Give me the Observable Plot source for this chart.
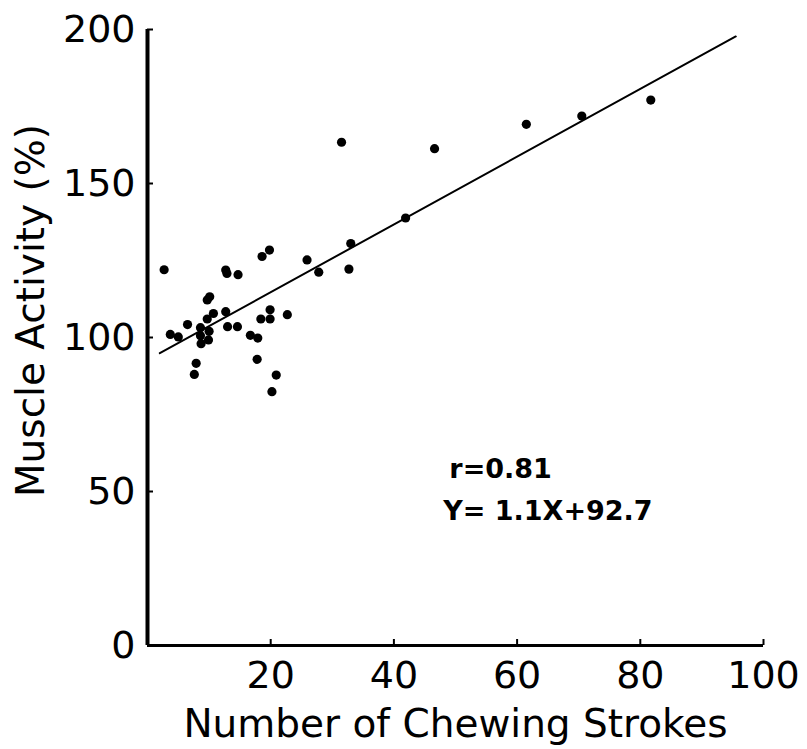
<!DOCTYPE html>
<html>
<head>
<meta charset="utf-8">
<script src="https://cdn.jsdelivr.net/npm/d3@7"></script>
<script src="https://cdn.jsdelivr.net/npm/@observablehq/plot@0.6"></script>
<style>
  html, body { margin: 0; padding: 0; background: #fff; }
  svg { display: block; }
</style>
</head>
<body>
<div id="chart"></div>
<script>
// Data
const strokes = [2.7, 3.7, 5.0, 6.5, 7.9, 7.6, 8.6, 8.6, 8.7, 9.7, 9.7, 10.1, 10.0, 9.9, 10.7,
  12.7, 12.9, 12.7, 13.0, 14.6, 14.7, 16.7, 17.9, 17.8, 18.4, 18.6, 19.8, 19.9, 19.9, 20.2,
  20.9, 22.7, 25.9, 27.8, 31.5, 32.7, 33.0, 41.9, 46.6, 61.5, 70.5, 81.7];
const activity = [122, 101, 100.2, 104.2, 91.6, 88, 103.2, 100.6, 98, 106, 112.2, 113.2, 102, 99.2, 107.8,
  121.9, 120.8, 108.4, 103.5, 103.5, 120.4, 100.7, 99.8, 92.9, 106, 126.3, 128.4, 109, 106, 82.4,
  87.8, 107.4, 125.2, 121.2, 163.4, 122.2, 130.5, 138.8, 161.3, 169.2, 171.9, 177.1];

// Regression line Y = 1.1X + 92.7 drawn between these x extents
const fitSlope = 1.1;
const fitIntercept = 92.7;
const fitRange = [2, 95.5];

const xTicks = [20, 40, 60, 80, 100];
const yTicks = [0, 50, 100, 150, 200];

const xTitle = "Number of Chewing Strokes";
const yTitle = "Muscle Activity (%)";

const noteText = ["r=0.81", "Y= 1.1X+92.7"];
const noteX = [49.0, 48.0];
const noteY = [57.3, 43.7];

// Build tables
const points = strokes.map((x, i) => ({x, y: activity[i]}));
const fitLine = fitRange.map(x => ({x, y: fitSlope * x + fitIntercept}));
const notes = noteText.map((t, i) => ({t, x: noteX[i], y: noteY[i]}));

const font = "DejaVu Sans, sans-serif";

const chart = Plot.plot({
  width: 807,
  height: 749,
  marginLeft: 147,
  marginRight: 44,
  marginTop: 29,
  marginBottom: 104,
  style: {fontFamily: font, background: "#fff", color: "#000"},
  x: {domain: [0, 100]},
  y: {domain: [0, 200]},
  marks: [
    Plot.axisX(xTicks, {tickSize: -6, tickPadding: 22, fontSize: 38, strokeWidth: 2, label: null}),
    Plot.axisY(yTicks, {tickSize: -6, tickPadding: 18, fontSize: 38, strokeWidth: 2, label: null}),
    Plot.ruleX([0], {strokeWidth: 4}),
    Plot.ruleY([0], {strokeWidth: 3}),
    Plot.line(fitLine, {x: "x", y: "y", stroke: "#000", strokeWidth: 2}),
    Plot.dot(points, {x: "x", y: "y", r: 4.6, fill: "#000", stroke: "none"}),
    Plot.text(notes, {x: "x", y: "y", text: "t", textAnchor: "start", lineAnchor: "middle", fontSize: 27, fontWeight: "bold"}),
    Plot.text([xTitle], {frameAnchor: "bottom", textAnchor: "middle", lineAnchor: "middle", dy: 79, fontSize: 39}),
    Plot.text([yTitle], {frameAnchor: "left", textAnchor: "middle", lineAnchor: "middle", rotate: -90, dx: -116, dy: -27, fontSize: 39})
  ]
});
document.getElementById("chart").appendChild(chart);
</script>
</body>
</html>
